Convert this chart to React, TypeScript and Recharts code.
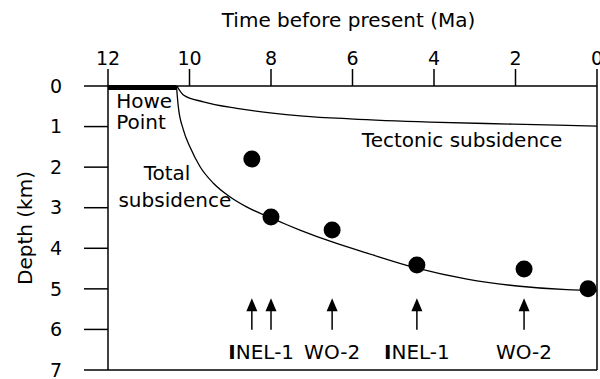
import React from 'react';
import { ComposedChart, Line, Scatter, XAxis, YAxis, ReferenceLine } from 'recharts';

const timeTicks = [12, 10, 8, 6, 4, 2, 0];
const depthTicks = [0, 1, 2, 3, 4, 5, 6, 7];

// total subsidence curve
const totalTime = [10.32, 10.275, 10.15, 9.99, 9.74, 9.42, 9.01, 8.6, 8.03, 7.61, 7.29, 6.48, 5.64, 4.42, 3.19, 1.96, 0.74, 0];
const totalDepth = [0, 0.51, 1.08, 1.5, 1.99, 2.39, 2.73, 2.98, 3.24, 3.42, 3.55, 3.85, 4.12, 4.49, 4.76, 4.93, 5.02, 5.04];

// tectonic subsidence curve
const tectTime = [10.31, 10.15, 9.66, 8.84, 8.02, 7.21, 6.06, 4.1, 2.06, 0];
const tectDepth = [0, 0.22, 0.39, 0.55, 0.66, 0.74, 0.81, 0.89, 0.94, 0.99];

// well data points
const wellTime = [8.47, 8.0, 6.5, 4.42, 1.79, 0.22];
const wellDepth = [1.8, 3.23, 3.55, 4.41, 4.51, 5.0];

// arrows below the curve
const arrowTime = [8.47, 8.0, 6.5, 4.42, 1.79];
const arrowTip = 5.23;
const arrowBase = 6.01;

const wellNames = ['INEL-1', 'WO-2', 'INEL-1', 'WO-2'];
const wellNameTime = [8.24, 6.5, 4.42, 1.79];
const wellNameDepth = 6.56;

const noteText = ['Howe', 'Point', 'Total', 'subsidence', 'Tectonic subsidence'];
const noteTime = [11.8, 11.8, 10.55, 10.36, 3.31];
const noteDepth = [0.37, 0.89, 2.14, 2.81, 1.33];
const noteAnchor = ['start', 'start', 'middle', 'middle', 'middle'];

const FONT = '"DejaVu Sans", Verdana, sans-serif';

const totalData = totalTime.map((t, i) => ({ t, d: totalDepth[i] }));
const tectData = tectTime.map((t, i) => ({ t, d: tectDepth[i] }));
const wellData = wellTime.map((t, i) => ({ t, d: wellDepth[i] }));
const arrowData = arrowTime.map(t => ({ t, d: arrowTip }));
const nameData = wellNames.map((name, i) => ({ t: wellNameTime[i], d: wellNameDepth, name }));
const noteData = noteText.map((text, i) => ({ t: noteTime[i], d: noteDepth[i], text, anchor: noteAnchor[i] }));

const Dot = (p: any) => <circle cx={p.cx} cy={p.cy} r={8.5} fill="#000" />;

const ArrowHead = (p: any) => (
    <path d={`M${p.cx},${p.cy} L${p.cx - 5.5},${p.cy + 13} L${p.cx + 5.5},${p.cy + 13} Z`} fill="#000" />
);

const WellName = (p: any) => {
    const name: string = p.payload.name;
    const boldI = name.startsWith('I');
    return (
        <text x={p.cx} y={p.cy} textAnchor="middle" dominantBaseline="central" fontSize={20} fill="#000" style={{ fontFamily: FONT }}>
            {boldI ? <><tspan fontWeight="bold">I</tspan>{name.slice(1)}</> : name}
        </text>
    );
};

const Note = (p: any) => (
    <text x={p.cx} y={p.cy} textAnchor={p.payload.anchor} dominantBaseline="central" fontSize={20} fill="#000" style={{ fontFamily: FONT }}>
        {p.payload.text}
    </text>
);

export default function App() {
    return (
        <div style={{ position: 'absolute', left: 0, top: 0, width: 600, height: 379, background: '#fff', fontFamily: FONT }}>
            <ComposedChart width={600} height={379} margin={{ top: 0, right: 3, bottom: 9, left: 0 }}>
                <XAxis
                    type="number"
                    dataKey="t"
                    domain={[0, 12]}
                    ticks={timeTicks}
                    reversed
                    orientation="top"
                    height={86}
                    tickSize={17}
                    tickMargin={4}
                    interval={0}
                    allowDataOverflow
                    stroke="#000"
                    strokeWidth={1.5}
                    tick={{ fill: '#000', fontSize: 19 }}
                    label={(props: any) => {
                        const vb = props.viewBox;
                        return (
                            <text x={vb.x + vb.width / 2 - 4} y={20} textAnchor="middle" dominantBaseline="central" fontSize={20} fill="#000">
                                Time before present (Ma)
                            </text>
                        );
                    }}
                />
                <YAxis
                    type="number"
                    dataKey="d"
                    domain={[0, 7]}
                    ticks={depthTicks}
                    reversed
                    width={108}
                    tickSize={24}
                    tickMargin={22}
                    interval={0}
                    allowDataOverflow
                    stroke="#000"
                    strokeWidth={1.5}
                    tick={{ fill: '#000', fontSize: 19 }}
                    label={(props: any) => {
                        const vb = props.viewBox;
                        const cy = vb.y + vb.height / 2;
                        return (
                            <text x={25} y={cy} transform={`rotate(-90 25 ${cy})`} textAnchor="middle" dominantBaseline="central" fontSize={20} fill="#000">
                                Depth (km)
                            </text>
                        );
                    }}
                />
                <ReferenceLine y={7} stroke="#000" strokeWidth={1.5} />
                <ReferenceLine x={0} stroke="#000" strokeWidth={1.5} />
                <ReferenceLine segment={[{ x: 12, y: 0.04 }, { x: totalTime[0], y: 0.04 }]} stroke="#000" strokeWidth={5} />
                {arrowTime.map((t, i) => (
                    <ReferenceLine key={i} segment={[{ x: t, y: arrowTip + 0.25 }, { x: t, y: arrowBase }]} stroke="#000" strokeWidth={1.5} />
                ))}

                <Line data={totalData} dataKey="d" type="monotone" stroke="#000" strokeWidth={1.3} dot={false} isAnimationActive={false} />
                <Line data={tectData} dataKey="d" type="monotone" stroke="#000" strokeWidth={1.3} dot={false} isAnimationActive={false} />
                <Scatter data={wellData} dataKey="d" shape={Dot} isAnimationActive={false} />
                <Scatter data={arrowData} dataKey="d" shape={ArrowHead} isAnimationActive={false} />
                <Scatter data={nameData} dataKey="d" shape={WellName} isAnimationActive={false} />
                <Scatter data={noteData} dataKey="d" shape={Note} isAnimationActive={false} />
            </ComposedChart>
        </div>
    );
}
